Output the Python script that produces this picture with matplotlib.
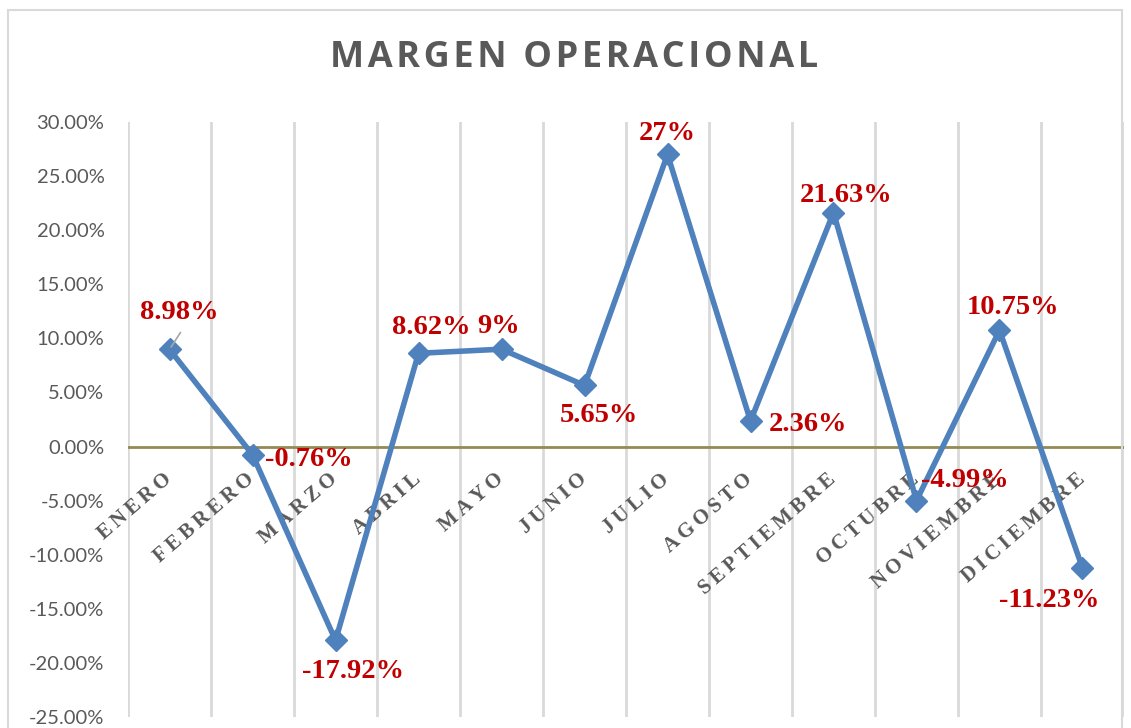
import matplotlib.pyplot as plt
from matplotlib.patches import Rectangle
from matplotlib.ticker import FuncFormatter, MultipleLocator

meses = ["ENERO", "FEBRERO", "MARZO", "ABRIL", "MAYO", "JUNIO", "JULIO",
         "AGOSTO", "SEPTIEMBRE", "OCTUBRE", "NOVIEMBRE", "DICIEMBRE"]
margen = [8.98, -0.76, -17.92, 8.62, 9.0, 5.65, 27.0, 2.36, 21.63, -4.99, 10.75, -11.23]
etiquetas = ["8.98%", "-0.76%", "-17.92%", "8.62%", "9%", "5.65%", "27%",
             "2.36%", "21.63%", "-4.99%", "10.75%", "-11.23%"]
# label offsets in pixels from the point (dx, dy), horizontal alignment
offsets = [(10, 37, "center"), (12, -5, "left"), (17, -31, "center"), (13, 26, "center"),
           (-3, 23, "center"), (14, -30, "center"), (0, 21, "center"), (18, -3, "left"),
           (13, 17, "center"), (5, 20, "left"), (14, 23, "center"), (-33, -32, "center")]

fig = plt.figure(figsize=(11.31, 7.28), dpi=100)
ax = fig.add_axes([0.1132, 0.0151, 0.8806, 0.8173])

# chart area border
fig.patches.append(Rectangle((8 / 1131, -0.01), 1114 / 1131, 1 - 10 / 728 + 0.01,
                             transform=fig.transFigure, fill=False,
                             edgecolor="#D9D9D9", linewidth=1.5))

x = list(range(len(meses)))
ax.set_xlim(-0.5, len(meses) - 0.5)
ax.set_ylim(-25, 30)

for b in range(len(meses) + 1):
    ax.axvline(b - 0.5, color="#D9D9D9", linewidth=2, zorder=0)
ax.axhline(0, color="#948A54", linewidth=2, zorder=1)

ax.plot(x, margen, color="#4F81BD", linewidth=4, marker="D", markersize=11,
        zorder=3, clip_on=False)

for i, (v, t, (dx, dy, ha)) in enumerate(zip(margen, etiquetas, offsets)):
    ax.annotate(t, (i, v), xytext=(dx, dy), textcoords="offset pixels",
                ha=ha, va="center", color="#C00000", fontsize=20.5,
                fontweight="bold", family="Liberation Serif", zorder=4)
# leader line for ENERO
ax.annotate("", (0, margen[0]), xytext=(11, 17), textcoords="offset pixels",
            arrowprops=dict(arrowstyle="-", color="#A6A6A6", linewidth=1.2,
                            shrinkA=0, shrinkB=2))

# category labels along the zero line
for i, m in enumerate(meses):
    ax.annotate("\u2009".join(m), (i, 0), xytext=(-7, -23), textcoords="offset pixels",
                ha="right", va="top", rotation=41, rotation_mode="anchor",
                color="#595959", fontsize=15, fontweight="bold",
                family=["Liberation Serif", "DejaVu Serif"], zorder=2)

ax.set_xticks([])
ax.yaxis.set_major_locator(MultipleLocator(5))
ax.yaxis.set_major_formatter(FuncFormatter(lambda v, p: f"{v:.2f}%"))
ax.tick_params(axis="y", length=0, pad=17, labelsize=14.5, labelcolor="#595959")
for lab in ax.get_yticklabels():
    lab.set_family("Lato")
for s in ax.spines.values():
    s.set_visible(False)

titulo = "MARGEN OPERACIONAL"
fig.text(0.5075, 0.921, "\u200a".join(titulo),
         ha="center", va="center", fontsize=26, fontweight="bold",
         color="#595959", family=["Open Sans", "DejaVu Sans"])

fig.savefig("out.png", dpi=100)
